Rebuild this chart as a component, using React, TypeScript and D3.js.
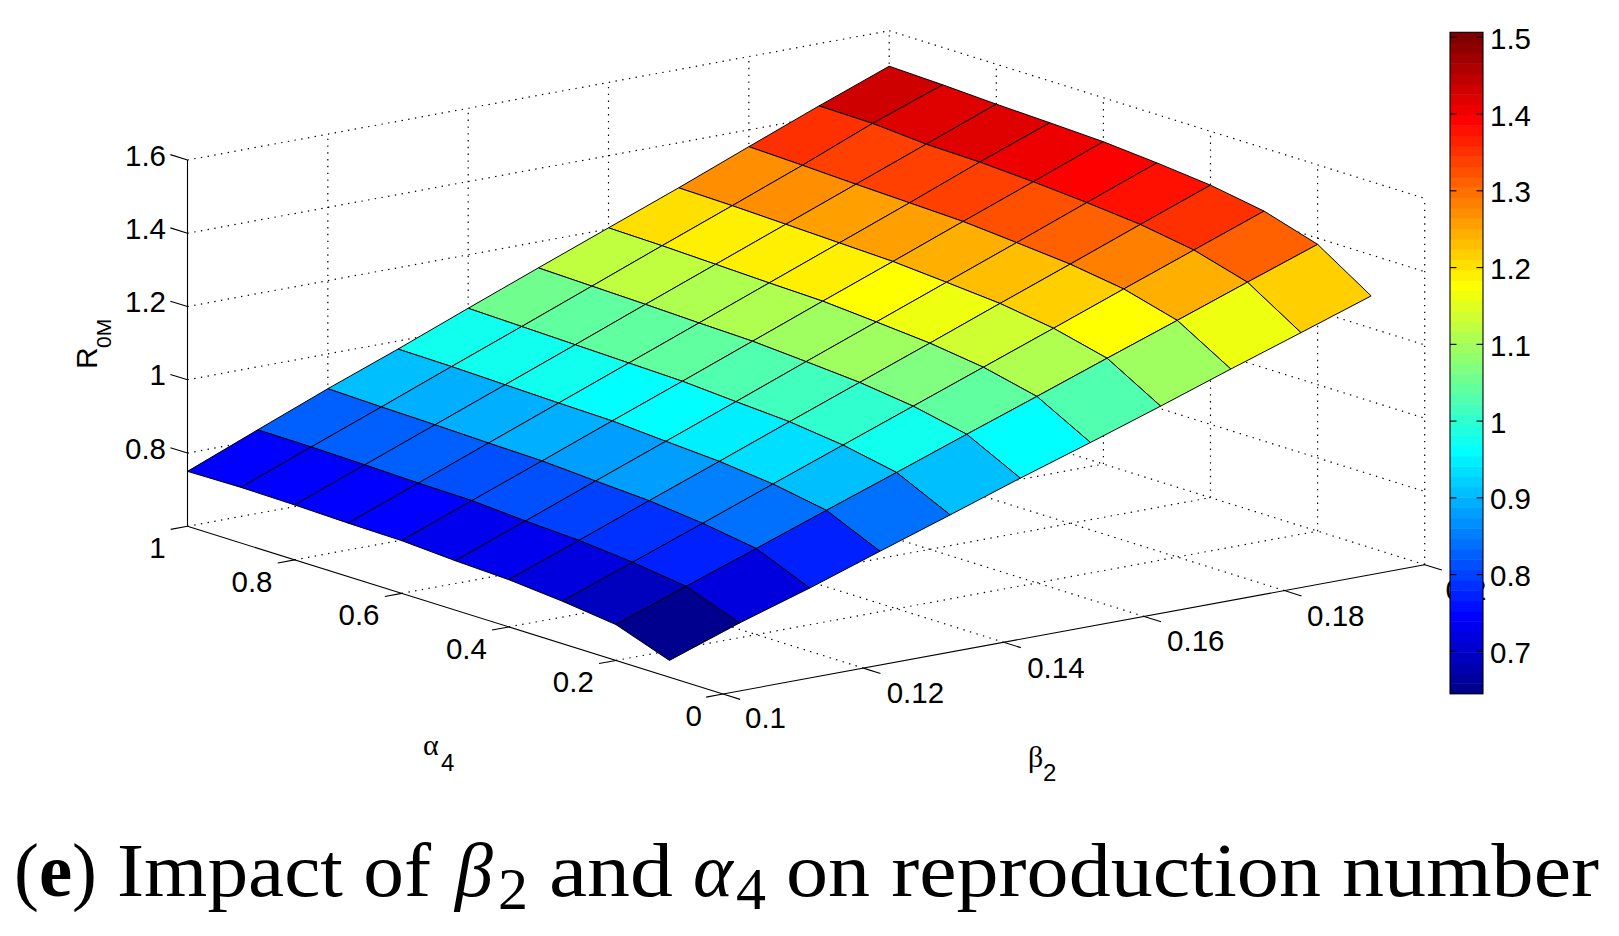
import * as d3 from "d3";

const alphaValues = [0.1, 0.2, 0.3, 0.4, 0.5, 0.6, 0.7, 0.8, 0.9, 1.0];
const betaValues = [0.1, 0.11, 0.12, 0.13, 0.14, 0.15, 0.16, 0.17, 0.18, 0.19, 0.2];

// one row per alpha, one column per beta
const zAlpha01 = [0.646, 0.713, 0.773, 0.838, 0.902, 0.967, 1.029, 1.093, 1.159, 1.223, 1.288];
const zAlpha02 = [0.698, 0.767, 0.835, 0.904, 0.972, 1.041, 1.109, 1.178, 1.246, 1.315, 1.383];
const zAlpha03 = [0.716, 0.787, 0.858, 0.93, 1.001, 1.072, 1.143, 1.214, 1.286, 1.357, 1.428];
const zAlpha04 = [0.729, 0.801, 0.874, 0.946, 1.019, 1.091, 1.163, 1.236, 1.308, 1.381, 1.453];
const zAlpha05 = [0.735, 0.808, 0.882, 0.955, 1.028, 1.102, 1.175, 1.248, 1.321, 1.395, 1.468];
const zAlpha06 = [0.744, 0.818, 0.891, 0.965, 1.038, 1.112, 1.186, 1.259, 1.333, 1.406, 1.48];
const zAlpha07 = [0.746, 0.82, 0.894, 0.968, 1.042, 1.116, 1.19, 1.264, 1.338, 1.414, 1.486];
const zAlpha08 = [0.75, 0.824, 0.898, 0.972, 1.046, 1.121, 1.195, 1.269, 1.343, 1.417, 1.491];
const zAlpha09 = [0.752, 0.827, 0.901, 0.976, 1.05, 1.125, 1.2, 1.274, 1.349, 1.428, 1.498];
const zAlpha10 = [0.75, 0.828, 0.905, 0.978, 1.054, 1.129, 1.203, 1.277, 1.354, 1.43, 1.503];
const surfaceZ = [zAlpha01, zAlpha02, zAlpha03, zAlpha04, zAlpha05, zAlpha06, zAlpha07, zAlpha08, zAlpha09, zAlpha10];

const alphaTicks = [0, 0.2, 0.4, 0.6, 0.8, 1];
const betaTicks = [0.1, 0.12, 0.14, 0.16, 0.18, 0.2];
const zTicks = [0.8, 1, 1.2, 1.4, 1.6];
const barTicks = [0.7, 0.8, 0.9, 1, 1.1, 1.2, 1.3, 1.4, 1.5];

const originX = 723;
const originY = 694;
const alphaX = d3.scaleLinear().domain([0, 1]).range([0, -535.5]);
const alphaY = d3.scaleLinear().domain([0, 1]).range([0, -167.7]);
const betaX = d3.scaleLinear().domain([0.1, 0.2]).range([0, 701.7]);
const betaY = d3.scaleLinear().domain([0.1, 0.2]).range([0, -129.3]);
const zY = d3.scaleLinear().domain([0.6, 1.6]).range([0, -366.3]);

const project = (a: number, b: number, z: number): [number, number] => [
  originX + alphaX(a) + betaX(b),
  originY + alphaY(a) + betaY(b) + zY(z),
];

// same stops as MATLAB's jet(64)
const jet = (i: number) => {
  const t = (i + 1) / 64;
  const ch = (c: number) => Math.round(255 * Math.max(0, Math.min(1, 1.5 - Math.abs(4 * t - c))));
  return d3.rgb(ch(3), ch(2), ch(1)).formatHex();
};
const jetColors = d3.range(64).map(jet);

const colorMin = 0.6449;
const colorMax = 1.5065;
const cellColor = d3.scaleQuantize<string>().domain([colorMin, colorMax]).range(jetColors);
const barY = d3.scaleLinear().domain([colorMin, colorMax]).range([693.7, 32.3]);

const path = d3.line();
const FONT = "'Liberation Sans', Arial, sans-serif";
const SERIF = "'Liberation Serif', serif";
const DOT = "1.4 5.4";

type Seg = [[number, number], [number, number]];

function dottedGrid(): Seg[] {
  const segs: Seg[] = [];
  // floor
  alphaTicks.filter((a) => a > 0).forEach((a) => segs.push([project(a, 0.1, 0.6), project(a, 0.2, 0.6)]));
  betaTicks.filter((b) => b > 0.1).forEach((b) => segs.push([project(0, b, 0.6), project(1, b, 0.6)]));
  // back walls
  betaTicks.filter((b) => b > 0.1).forEach((b) => segs.push([project(1, b, 0.6), project(1, b, 1.6)]));
  alphaTicks.filter((a) => a < 1).forEach((a) => segs.push([project(a, 0.2, 0.6), project(a, 0.2, 1.6)]));
  zTicks.forEach((z) => {
    segs.push([project(1, 0.1, z), project(1, 0.2, z)]);
    segs.push([project(1, 0.2, z), project(0, 0.2, z)]);
  });
  return segs;
}

export default function App() {
  const cells: { d: string; fill: string; depth: number }[] = [];
  alphaValues.slice(0, -1).forEach((a, i) => {
    betaValues.slice(0, -1).forEach((b, j) => {
      const a2 = alphaValues[i + 1];
      const b2 = betaValues[j + 1];
      const ring = [
        project(a, b, surfaceZ[i][j]),
        project(a, b2, surfaceZ[i][j + 1]),
        project(a2, b2, surfaceZ[i + 1][j + 1]),
        project(a2, b, surfaceZ[i + 1][j]),
      ];
      cells.push({
        d: path(ring) + "Z",
        fill: cellColor(surfaceZ[i][j]),
        depth: project(a, b, 0.6)[1],
      });
    });
  });
  cells.sort((p, q) => p.depth - q.depth);

  const tickA = 0.032; // tick length in alpha units
  const tickB = 0.0024; // tick length in beta units

  return (
    <svg
      width={1619}
      height={936}
      style={{ position: "absolute", left: 0, top: 0, background: "#fff" }}
    >
      <g stroke="#000" strokeWidth={1.2} strokeDasharray={DOT} fill="none">
        {dottedGrid().map((s, i) => (
          <path key={i} d={path(s)!} />
        ))}
      </g>

      {/* axes */}
      <g stroke="#000" strokeWidth={1.1} fill="none">
        <path d={path([project(1, 0.1, 0.6), project(1, 0.1, 1.6)])!} />
        <path d={path([project(1, 0.1, 0.6), project(0, 0.1, 0.6)])!} />
        <path d={path([project(0, 0.1, 0.6), project(0, 0.2, 0.6)])!} />
        {zTicks.map((z) => (
          <path key={z} d={path([project(1, 0.1, z), project(1 + tickA, 0.1, z)])!} />
        ))}
        {alphaTicks.map((a) => (
          <path key={a} d={path([project(a, 0.1, 0.6), project(a, 0.1 - tickB, 0.6)])!} />
        ))}
        {betaTicks.map((b) => (
          <path key={b} d={path([project(0, b, 0.6), project(-tickA, b, 0.6)])!} />
        ))}
      </g>

      {/* surface */}
      <g stroke="#000" strokeWidth={1} strokeLinejoin="round">
        {cells.map((c, i) => (
          <path key={i} d={c.d} fill={c.fill} />
        ))}
      </g>

      <g fontFamily={FONT} fontSize={29.5} fill="#000">
        {zTicks.map((z, i) => (
          <text key={z} x={166} y={[448, 374, 301, 228, 155][i]} textAnchor="end" dominantBaseline="central">
            {z}
          </text>
        ))}
        {alphaTicks.map((a, i) => (
          <text
            key={a}
            x={[693.7, 573.3, 466.4, 359, 252, 157.5][i]}
            y={[715.3, 681.3, 648.7, 614.7, 581.3, 547.3][i]}
            textAnchor="middle"
            dominantBaseline="central"
          >
            {a}
          </text>
        ))}
        {betaTicks.map((b, i) => (
          <text
            key={b}
            x={[765.5, 915.4, 1055.9, 1195.8, 1335.8, 1466][i]}
            y={[717.3, 692.3, 667, 640.7, 615.7, 589.7][i]}
            textAnchor="middle"
            dominantBaseline="central"
          >
            {b}
          </text>
        ))}
        <g transform="translate(97,369) rotate(-90)">
          <text x={0} y={0} fontSize={30}>R</text>
          <text x={21} y={14} fontSize={21}>0M</text>
        </g>
      </g>

      {/* axis names */}
      <text x={423} y={755} fontFamily={SERIF} fontSize={30}>α</text>
      <text x={441} y={771} fontFamily={FONT} fontSize={24}>4</text>
      <text x={1028} y={767} fontFamily={SERIF} fontSize={30}>β</text>
      <text x={1043} y={781} fontFamily={FONT} fontSize={24}>2</text>

      {/* colorbar */}
      <g>
        {jetColors.map((c, i) => {
          const lo = colorMin + ((colorMax - colorMin) * i) / 64;
          const hi = colorMin + ((colorMax - colorMin) * (i + 1)) / 64;
          return <rect key={i} x={1450} width={33} y={barY(hi)} height={barY(lo) - barY(hi) + 0.5} fill={c} />;
        })}
        <rect x={1450} y={32.3} width={33} height={661.4} fill="none" stroke="#000" strokeWidth={1.1} />
        {barTicks.map((t) => (
          <g key={t} stroke="#000" strokeWidth={1.1}>
            <line x1={1450} x2={1456.5} y1={barY(t)} y2={barY(t)} />
            <line x1={1476.5} x2={1483} y1={barY(t)} y2={barY(t)} />
          </g>
        ))}
        {barTicks.map((t) => (
          <text
            key={t}
            x={1490}
            y={barY(t) + 1}
            fontFamily={FONT}
            fontSize={29.5}
            dominantBaseline="central"
          >
            {t}
          </text>
        ))}
      </g>

      {/* caption */}
      <g fontFamily={SERIF} fontSize={76} fill="#000">
        <text x={14} y={896} textLength={83} lengthAdjust="spacingAndGlyphs">
          (<tspan fontWeight="bold">e</tspan>)
        </text>
        <text x={117} y={896} textLength={314} lengthAdjust="spacingAndGlyphs">Impact of</text>
        <text x={455} y={896} fontStyle="italic">β</text>
        <text x={498} y={909} fontSize={60}>2</text>
        <text x={549} y={896} textLength={124} lengthAdjust="spacingAndGlyphs">and</text>
        <text x={693} y={896} fontStyle="italic">α</text>
        <text x={736} y={909} fontSize={60}>4</text>
        <text x={786} y={896} textLength={813} lengthAdjust="spacingAndGlyphs">on reproduction number</text>
      </g>
    </svg>
  );
}
